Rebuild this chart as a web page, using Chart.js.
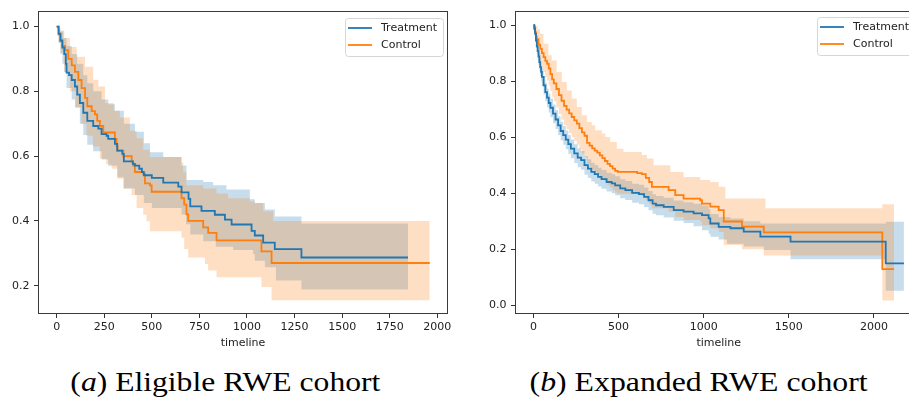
<!DOCTYPE html>
<html><head><meta charset="utf-8">
<script src="https://cdn.jsdelivr.net/npm/chart.js@4.4.0/dist/chart.umd.min.js"></script>
<style>
html,body{margin:0;padding:0;background:#fff;width:909px;height:398px;overflow:hidden;}
#wrap{position:relative;width:909px;height:398px;overflow:hidden;}
canvas{position:absolute;top:0;}
#cA{left:0;}
#cB{left:460px;}
.cap{position:absolute;top:369px;left:0;font-family:"Liberation Serif","Times New Roman",serif;font-size:27px;line-height:27px;color:#000;white-space:nowrap;transform-origin:center center;}
</style></head>
<body><div id="wrap">
<canvas id="cA" width="460" height="360"></canvas>
<canvas id="cB" width="480" height="360"></canvas>
<span class="cap" id="capA">(<i>a</i>) Eligible RWE cohort</span>
<span class="cap" id="capB">(<i>b</i>) Expanded RWE cohort</span>
</div>
<script>
// ---------- tick labels ----------
const eligibleXTicks = [0, 250, 500, 750, 1000, 1250, 1500, 1750, 2000];
const eligibleYTicks = [0.2, 0.4, 0.6, 0.8, 1.0];
const expandedXTicks = [0, 500, 1000, 1500, 2000];
const expandedYTicks = [0.0, 0.2, 0.4, 0.6, 0.8, 1.0];
const seriesNames = ["Treatment", "Control"];

// ---------- (a) Eligible RWE cohort: [timeline, survival] ----------
const eligibleTreatment = [[0,1.0],[10,0.978],[20,0.957],[30,0.935],[40,0.915],[48,0.885],[52,0.858],[65,0.85],[79,0.835],[96,0.815],[108,0.79],[122,0.764],[140,0.734],[161,0.709],[192,0.693],[219,0.685],[236,0.668],[262,0.663],[271,0.653],[306,0.638],[318,0.617],[345,0.607],[353,0.584],[400,0.576],[411,0.571],[434,0.561],[448,0.551],[458,0.541],[500,0.533],[560,0.518],[639,0.506],[656,0.488],[693,0.468],[702,0.445],[761,0.431],[831,0.419],[884,0.404],[919,0.389],[1024,0.369],[1041,0.355],[1085,0.333],[1146,0.313],[1286,0.287],[1846,0.287]];
const eligibleControl = [[0,1.0],[10,0.975],[20,0.955],[30,0.94],[44,0.927],[61,0.9],[79,0.88],[96,0.86],[114,0.835],[131,0.81],[149,0.78],[161,0.754],[184,0.739],[201,0.729],[213,0.709],[227,0.693],[245,0.673],[306,0.653],[315,0.632],[320,0.617],[350,0.6],[394,0.584],[402,0.571],[411,0.551],[455,0.546],[464,0.516],[490,0.51],[499,0.49],[656,0.47],[670,0.45],[682,0.42],[691,0.40],[770,0.38],[796,0.363],[840,0.34],[1076,0.306],[1129,0.27],[1960,0.27]];
const eligibleTreatmentUpper = [[0,1.0],[10,0.995],[20,0.985],[35,0.965],[52,0.94],[79,0.915],[108,0.885],[140,0.85],[161,0.825],[192,0.8],[236,0.775],[271,0.76],[306,0.74],[353,0.7],[411,0.675],[458,0.64],[490,0.612],[560,0.597],[656,0.571],[682,0.526],[770,0.52],[822,0.51],[892,0.497],[1015,0.467],[1041,0.455],[1094,0.435],[1146,0.414],[1286,0.392],[1846,0.392]];
const eligibleTreatmentLower = [[0,1.0],[10,0.95],[20,0.915],[30,0.885],[40,0.86],[52,0.81],[79,0.775],[96,0.75],[122,0.7],[140,0.665],[161,0.635],[192,0.615],[236,0.59],[271,0.57],[318,0.535],[353,0.5],[411,0.48],[458,0.455],[500,0.44],[656,0.42],[680,0.39],[702,0.358],[770,0.337],[836,0.32],[927,0.31],[1032,0.297],[1041,0.277],[1094,0.257],[1152,0.216],[1286,0.188],[1846,0.188]];
const eligibleControlUpper = [[0,1.0],[17,0.988],[40,0.965],[70,0.937],[105,0.907],[149,0.876],[192,0.836],[219,0.815],[254,0.764],[300,0.74],[332,0.719],[385,0.678],[420,0.655],[455,0.62],[490,0.597],[656,0.58],[665,0.55],[682,0.51],[770,0.5],[840,0.485],[900,0.47],[1015,0.46],[1041,0.455],[1085,0.43],[1137,0.40],[1960,0.40]];
const eligibleControlLower = [[0,1.0],[10,0.95],[20,0.92],[40,0.86],[70,0.80],[100,0.75],[130,0.70],[157,0.663],[190,0.63],[227,0.592],[260,0.575],[289,0.561],[320,0.53],[350,0.5],[394,0.48],[420,0.44],[455,0.419],[472,0.399],[490,0.368],[656,0.348],[670,0.313],[691,0.287],[779,0.267],[796,0.247],[840,0.226],[1076,0.196],[1129,0.155],[1960,0.155]];

// ---------- (b) Expanded RWE cohort: [timeline, survival] ----------
const expandedTreatment = [[0,1.0],[5,0.987],[10,0.969],[15,0.945],[20,0.924],[25,0.907],[30,0.888],[35,0.868],[40,0.85],[45,0.833],[50,0.815],[60,0.785],[70,0.761],[80,0.741],[90,0.722],[100,0.705],[115,0.684],[130,0.663],[145,0.642],[160,0.622],[175,0.607],[190,0.591],[205,0.575],[220,0.559],[240,0.542],[260,0.527],[280,0.518],[300,0.5],[320,0.488],[340,0.476],[360,0.468],[380,0.458],[400,0.45],[430,0.44],[460,0.435],[480,0.428],[510,0.417],[540,0.411],[580,0.401],[620,0.397],[650,0.387],[676,0.375],[700,0.363],[720,0.357],[765,0.351],[824,0.34],[882,0.334],[941,0.328],[990,0.322],[1029,0.31],[1039,0.292],[1088,0.28],[1157,0.275],[1235,0.263],[1333,0.245],[1510,0.227],[2069,0.15],[2176,0.15]];
const expandedControl = [[0,1.0],[5,0.995],[10,0.975],[15,0.96],[20,0.95],[30,0.93],[40,0.915],[50,0.9],[60,0.886],[70,0.872],[80,0.862],[90,0.845],[100,0.825],[110,0.806],[120,0.792],[135,0.772],[150,0.75],[165,0.73],[180,0.712],[195,0.698],[210,0.685],[225,0.672],[240,0.66],[255,0.648],[270,0.632],[285,0.617],[300,0.605],[315,0.58],[330,0.57],[345,0.56],[360,0.552],[375,0.545],[390,0.535],[405,0.525],[420,0.515],[435,0.505],[450,0.497],[465,0.488],[480,0.48],[495,0.476],[610,0.472],[637,0.468],[660,0.455],[680,0.44],[696,0.423],[794,0.411],[833,0.393],[882,0.381],[980,0.375],[990,0.363],[1039,0.352],[1088,0.34],[1118,0.299],[1225,0.281],[1353,0.26],[2049,0.129],[2118,0.129]];
const expandedTreatmentUpper = [[0,1.0],[5,0.997],[10,0.99],[15,0.972],[20,0.953],[25,0.937],[30,0.918],[35,0.899],[40,0.882],[45,0.865],[50,0.848],[60,0.818],[70,0.794],[80,0.774],[90,0.755],[100,0.738],[115,0.717],[130,0.696],[145,0.675],[160,0.655],[175,0.64],[190,0.624],[205,0.608],[220,0.592],[240,0.575],[260,0.56],[280,0.551],[300,0.533],[320,0.521],[340,0.509],[360,0.501],[380,0.491],[400,0.483],[430,0.473],[460,0.468],[480,0.461],[510,0.45],[540,0.444],[580,0.434],[620,0.43],[650,0.42],[676,0.408],[700,0.396],[720,0.39],[765,0.384],[824,0.374],[882,0.368],[941,0.362],[990,0.356],[1029,0.344],[1039,0.326],[1088,0.315],[1157,0.31],[1235,0.3],[1333,0.292],[1510,0.292],[2069,0.298],[2176,0.298]];
const expandedTreatmentLower = [[0,1.0],[5,0.975],[10,0.948],[15,0.918],[20,0.895],[25,0.876],[30,0.857],[35,0.837],[40,0.818],[45,0.8],[50,0.782],[60,0.752],[70,0.728],[80,0.707],[90,0.688],[100,0.671],[115,0.65],[130,0.629],[145,0.608],[160,0.588],[175,0.573],[190,0.557],[205,0.541],[220,0.525],[240,0.508],[260,0.493],[280,0.484],[300,0.466],[320,0.454],[340,0.442],[360,0.434],[380,0.424],[400,0.416],[430,0.406],[460,0.4],[480,0.393],[510,0.382],[540,0.376],[580,0.366],[620,0.361],[650,0.351],[676,0.339],[700,0.327],[720,0.321],[765,0.313],[824,0.302],[882,0.294],[941,0.282],[990,0.268],[1029,0.255],[1039,0.245],[1088,0.235],[1137,0.22],[1235,0.21],[1353,0.197],[1510,0.164],[2069,0.052],[2176,0.052]];
const expandedControlUpper = [[0,1.0],[10,0.998],[25,0.985],[39,0.969],[59,0.933],[88,0.892],[108,0.874],[137,0.833],[167,0.797],[196,0.767],[225,0.738],[255,0.708],[284,0.678],[314,0.654],[343,0.643],[363,0.625],[402,0.613],[422,0.601],[451,0.583],[490,0.559],[529,0.547],[637,0.536],[667,0.524],[706,0.5],[804,0.476],[882,0.458],[980,0.447],[1039,0.44],[1088,0.423],[1127,0.381],[1363,0.346],[2049,0.361],[2118,0.361]];
const expandedControlLower = [[0,1.0],[10,0.94],[20,0.91],[30,0.885],[40,0.865],[50,0.848],[60,0.832],[70,0.815],[80,0.802],[90,0.785],[100,0.764],[110,0.744],[120,0.728],[135,0.706],[150,0.683],[165,0.662],[180,0.643],[195,0.628],[210,0.614],[225,0.6],[240,0.587],[255,0.574],[270,0.558],[285,0.543],[300,0.53],[315,0.505],[330,0.495],[345,0.484],[360,0.475],[375,0.468],[390,0.458],[405,0.448],[420,0.438],[435,0.428],[450,0.42],[465,0.411],[480,0.403],[495,0.398],[610,0.394],[637,0.39],[660,0.377],[680,0.362],[696,0.346],[794,0.334],[833,0.315],[882,0.304],[980,0.298],[990,0.286],[1039,0.275],[1088,0.262],[1118,0.215],[1225,0.2],[1353,0.178],[2049,0.017],[2118,0.017]];

// ---------- styling ----------
const BLUE = '#1f77b4', ORANGE = '#ff7f0e';
const BLUE_FILL = 'rgba(31,119,180,0.25)', ORANGE_FILL = 'rgba(255,127,14,0.25)';
const FONT = '"DejaVu Sans", Verdana, sans-serif';
Chart.defaults.font.family = FONT;
Chart.defaults.animation = false;

const xy = arr => arr.map(p => ({x: p[0], y: p[1]}));

const framePlugin = {
  id: 'frameLegend',
  afterDraw(chart, args, opts) {
    const {ctx, chartArea: a} = chart;
    ctx.save();
    ctx.strokeStyle = '#3a3a3a';
    ctx.lineWidth = 1;
    ctx.strokeRect(Math.round(a.left) + 0.5, Math.round(a.top) + 0.5,
                   Math.round(a.right - a.left) - 1, Math.round(a.bottom - a.top) - 1);
    // legend box
    ctx.font = '11px ' + FONT;
    const items = [{label: seriesNames[0], color: BLUE}, {label: seriesNames[1], color: ORANGE}];
    const tw = Math.max(...items.map(it => ctx.measureText(it.label).width));
    const w = 36 + tw + 6, h = 38;
    const x0 = Math.round(a.right - opts.dx - w), y0 = Math.round(a.top + opts.dy);
    ctx.beginPath();
    if (ctx.roundRect) ctx.roundRect(x0 + 0.5, y0 + 0.5, w, h, 3); else ctx.rect(x0 + 0.5, y0 + 0.5, w, h);
    ctx.fillStyle = 'rgba(255,255,255,0.8)';
    ctx.fill();
    ctx.strokeStyle = '#d6d6d6';
    ctx.stroke();
    items.forEach((it, i) => {
      const yy = y0 + 10 + i * 17;
      ctx.beginPath();
      ctx.strokeStyle = it.color;
      ctx.lineWidth = 1.8;
      ctx.moveTo(x0 + 3, yy);
      ctx.lineTo(x0 + 27, yy);
      ctx.stroke();
      ctx.fillStyle = '#222';
      ctx.textBaseline = 'middle';
      ctx.textAlign = 'left';
      ctx.fillText(it.label, x0 + 36, yy + 0.5);
    });
    ctx.restore();
  }
};

function makeChart(id, d, ax) {
  const datasets = [
    {label: seriesNames[0], data: xy(d.t), borderColor: BLUE, borderWidth: 1.8, stepped: 'before', pointRadius: 0, fill: false, order: 0},
    {label: seriesNames[1], data: xy(d.c), borderColor: ORANGE, borderWidth: 1.8, stepped: 'before', pointRadius: 0, fill: false, order: 0},
    {label: 'tu', data: xy(d.tu), borderWidth: 0, borderColor: 'rgba(0,0,0,0)', backgroundColor: BLUE_FILL, stepped: 'before', pointRadius: 0, fill: {target: 3}, order: 2},
    {label: 'tl', data: xy(d.tl), borderWidth: 0, borderColor: 'rgba(0,0,0,0)', stepped: 'before', pointRadius: 0, fill: false, order: 2},
    {label: 'cu', data: xy(d.cu), borderWidth: 0, borderColor: 'rgba(0,0,0,0)', backgroundColor: ORANGE_FILL, stepped: 'before', pointRadius: 0, fill: {target: 5}, order: 1},
    {label: 'cl', data: xy(d.cl), borderWidth: 0, borderColor: 'rgba(0,0,0,0)', stepped: 'before', pointRadius: 0, fill: false, order: 1}
  ];
  const tickFont = {family: FONT, size: 11};
  return new Chart(document.getElementById(id), {
    type: 'line',
    data: {datasets},
    plugins: [framePlugin],
    options: {
      responsive: false,
      devicePixelRatio: 1,
      animation: false,
      events: [],
      layout: {padding: {top: ax.padTop, right: ax.padRight, left: 0, bottom: 0}},
      plugins: {legend: {display: false}, tooltip: {enabled: false}, frameLegend: {dx: ax.legDx, dy: ax.legDy}},
      scales: {
        x: {
          type: 'linear', min: ax.xmin, max: ax.xmax,
          afterBuildTicks: s => { s.ticks = ax.xticks.map(v => ({value: v})); },
          afterFit: s => { s.height = 46; },
          ticks: {font: tickFont, color: '#222', padding: 3, maxRotation: 0, autoSkip: false, callback: v => String(v)},
          grid: {display: true, drawOnChartArea: false, drawTicks: true, tickLength: 4, tickColor: '#333', tickWidth: 1},
          border: {display: false},
          title: {display: true, text: 'timeline', font: tickFont, color: '#222', padding: {top: 0, bottom: 10}}
        },
        y: {
          type: 'linear', min: ax.ymin, max: ax.ymax,
          afterBuildTicks: s => { s.ticks = ax.yticks.map(v => ({value: v})); },
          afterFit: s => { s.width = ax.yWidth; },
          ticks: {font: tickFont, color: '#222', padding: 4.5, autoSkip: false, callback: v => v.toFixed(1)},
          grid: {display: true, drawOnChartArea: false, drawTicks: true, tickLength: 4, tickColor: '#333', tickWidth: 1},
          border: {display: false}
        }
      }
    }
  });
}

makeChart('cA',
  {t: eligibleTreatment, c: eligibleControl, tu: eligibleTreatmentUpper, tl: eligibleTreatmentLower, cu: eligibleControlUpper, cl: eligibleControlLower},
  {xmin: -98, xmax: 2056, ymin: 0.1126, ymax: 1.0478, xticks: eligibleXTicks, yticks: eligibleYTicks,
   padTop: 7, padRight: 12, yWidth: 38, legDx: 5, legDy: 7});

makeChart('cB',
  {t: expandedTreatment, c: expandedControl, tu: expandedTreatmentUpper, tl: expandedTreatmentLower, cu: expandedControlUpper, cl: expandedControlLower},
  {xmin: -108, xmax: 2285, ymin: -0.031, ymax: 1.0499, xticks: expandedXTicks, yticks: expandedYTicks,
   padTop: 10.7, padRight: 17.5, yWidth: 55, legDx: 7.5, legDy: 6.3});

function fitCap(id, cx, target) {
  const el = document.getElementById(id);
  el.style.transform = 'none';
  const w = el.getBoundingClientRect().width;
  el.style.left = (cx - w / 2) + 'px';
  el.style.transform = 'scaleX(' + (target / w) + ')';
}
function fitAll() { fitCap('capA', 225, 310); fitCap('capB', 699, 338); }
fitAll();
if (document.fonts && document.fonts.ready) document.fonts.ready.then(fitAll);
</script>
</body></html>
